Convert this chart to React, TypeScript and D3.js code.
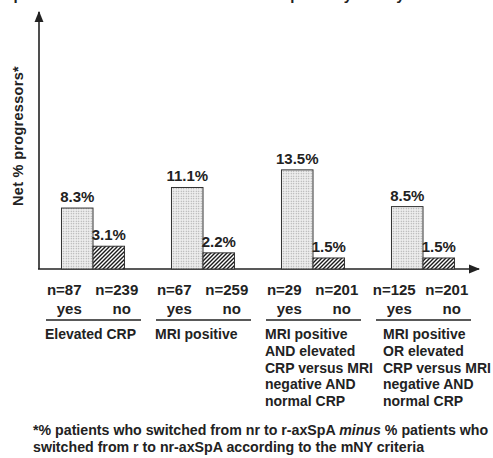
import React from "react";
import * as d3 from "d3";

// values
const groupKeys = ["crp", "mri", "and", "or"];
const groupLabels = [
  ["Elevated CRP"],
  ["MRI positive"],
  ["MRI positive", "AND elevated", "CRP versus MRI", "negative AND", "normal CRP"],
  ["MRI positive", "OR elevated", "CRP versus MRI", "negative AND", "normal CRP"],
];
const subgroups = ["yes", "no"];
const yesValues = [8.3, 11.1, 13.5, 8.5];
const noValues = [3.1, 2.2, 1.5, 1.5];
const yesN = [87, 67, 29, 125];
const noN = [239, 259, 201, 201];

const W = 493;
const H = 458;
const baseY = 269;
const axisX = 39;

export default function App() {
  const x0 = d3
    .scaleBand()
    .domain(groupKeys)
    .range([38, 478])
    .paddingInner(0.427)
    .paddingOuter(0.2135);
  const x1 = d3.scaleBand().domain(subgroups).range([0, x0.bandwidth()]);
  const y = d3.scaleLinear().domain([0, 35]).range([baseY, 12]);

  const font = "'Liberation Sans', Arial, sans-serif";
  const ink = "#222";

  return (
    <svg
      width={W}
      height={H}
      style={{ position: "absolute", left: 0, top: 0, background: "#fff" }}
      fontFamily={font}
    >
      <defs>
        <pattern id="dots" width="2.5" height="2.5" patternUnits="userSpaceOnUse">
          <rect width="2.5" height="2.5" fill="#eeeeee" />
          <circle cx="1.25" cy="1.25" r="0.6" fill="#9a9a9a" />
        </pattern>
        <pattern id="hatch" width="4" height="4" patternUnits="userSpaceOnUse">
          <rect width="4" height="4" fill="#fff" />
          <path d="M-1,1 l2,-2 M0,4 l4,-4 M3,5 l2,-2" stroke="#1a1a1a" strokeWidth="1.4" />
        </pattern>
        <marker id="arrow" viewBox="0 0 10 10" refX="9" refY="5" markerWidth="7" markerHeight="7" orient="auto">
          <path d="M0,1 L10,5 L0,9 Z" fill={ink} />
        </marker>
      </defs>

      {/* title line, cut off at the top edge as in the source */}
      <text x={-4} y={0} fontSize={15} fontWeight="bold" fill={ink}>
        % patients who switched from nr to r-axSpA at 2 years by baseline status
      </text>

      {/* axes */}
      <line x1={axisX} y1={baseY} x2={axisX} y2={12} stroke={ink} strokeWidth={1.6} markerEnd="url(#arrow)" />
      <line x1={axisX - 1} y1={baseY} x2={479} y2={baseY} stroke={ink} strokeWidth={1.6} markerEnd="url(#arrow)" />

      <text
        transform={`translate(23,136) rotate(-90)`}
        textAnchor="middle"
        fontSize={14.5}
        fontWeight="bold"
        letterSpacing={0.3}
        fill={ink}
      >
        Net % progressors*
      </text>

      {groupKeys.map((g, i) => {
        const gx = x0(g)!;
        const cx = gx + x0.bandwidth() / 2;
        const vals = [yesValues[i], noValues[i]];
        const ns = [yesN[i], noN[i]];
        const offs = [-13, 8];
        const left = cx - 48 + (i === groupKeys.length - 1 ? 8 : 0);
        return (
          <g key={g}>
            {subgroups.map((s, j) => {
              const bx = gx + x1(s)!;
              const bw = x1.bandwidth();
              return (
                <g key={s}>
                  <rect
                    x={bx}
                    y={y(vals[j])}
                    width={bw}
                    height={baseY - y(vals[j])}
                    fill={j === 0 ? "url(#dots)" : "url(#hatch)"}
                    stroke="#333"
                    strokeWidth={1}
                  />
                  <text
                    x={bx + bw / 2}
                    y={y(vals[j]) - 6}
                    textAnchor="middle"
                    fontSize={15}
                    fontWeight="bold"
                    fill={ink}
                  >
                    {vals[j]}%
                  </text>
                  <text x={bx + bw / 2 + offs[j]} y={295} textAnchor="middle" fontSize={15} fontWeight="bold" fill={ink}>
                    n={ns[j]}
                  </text>
                  <text x={bx + bw / 2 + offs[j] + 5} y={314} textAnchor="middle" fontSize={15} fontWeight="bold" fill={ink}>
                    {s}
                  </text>
                </g>
              );
            })}
            <line x1={cx - 47} y1={320} x2={cx + 48} y2={320} stroke={ink} strokeWidth={1.5} />
            {groupLabels[i].map((line, k) => (
              <text key={k} x={left} y={339 + k * 16.8} fontSize={14} fontWeight="bold" fill={ink}>
                {line}
              </text>
            ))}
          </g>
        );
      })}

      <text x={33} y={435} fontSize={14.2} fontWeight="bold" fill={ink}>
        *% patients who switched  from nr to r-axSpA <tspan fontStyle="italic">minus</tspan> % patients who
      </text>
      <text x={33} y={452} fontSize={14.2} fontWeight="bold" fill={ink}>
        switched from r to nr-axSpA according to the mNY criteria
      </text>
    </svg>
  );
}
